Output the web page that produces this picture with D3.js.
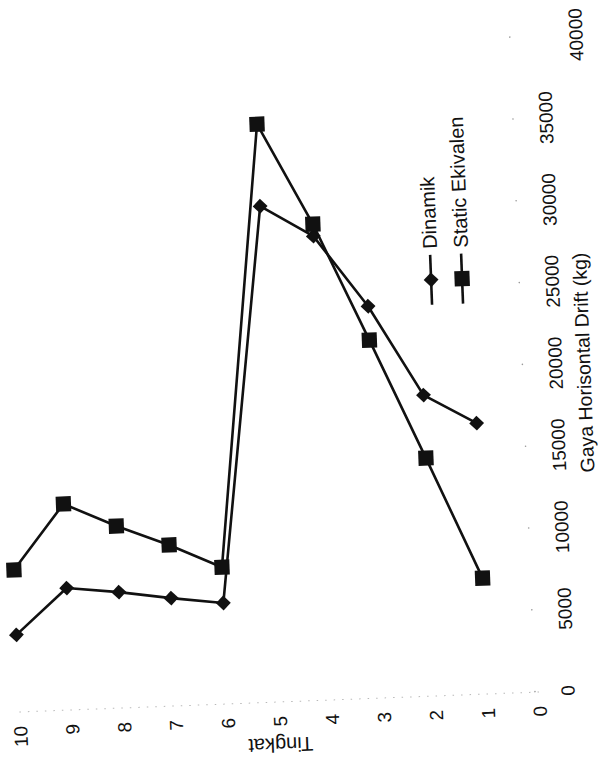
<!DOCTYPE html>
<html>
<head>
<meta charset="utf-8">
<script src="https://cdn.jsdelivr.net/npm/d3@7"></script>
<style>
  html, body { margin: 0; padding: 0; background: #fff; }
  svg { display: block; }
  text { font-family: "Liberation Sans", Arial, sans-serif; fill: #111; }
</style>
</head>
<body>
<svg id="chart" width="598" height="762"></svg>
<script>
// ---- data ----
const levels = [1, 2, 3, 4, 5, 6, 7, 8, 9, 10];
const dinamik = [16550, 18390, 23940, 28350, 30300, 6170, 6590, 7080, 7450, 4710];
const statik  = [7080, 14540, 21870, 29080, 35310, 8360, 9840, 11120, 12590, 8680];
const gayaTicks = [0, 5000, 10000, 15000, 20000, 25000, 30000, 35000, 40000];
const tingkatTicks = [0, 1, 2, 3, 4, 5, 6, 7, 8, 9, 10];
const seriesNames = ["Dinamik", "Static Ekivalen"];
const xTitle = "Gaya Horisontal Drift (kg)";
const yTitle = "Tingkat";

const svg = d3.select("#chart");
svg.append("rect").attr("width", 598).attr("height", 762).attr("fill", "#fff");

// The scanned chart is rotated (page turned sideways, slightly skewed)
const g = svg.append("g").attr("transform", "translate(539,692) rotate(-92.2)");

const x = d3.scaleLinear().domain([0, 40000]).range([0, 655]);
const y = d3.scaleLinear().domain([0, 10]).range([0, -520]);

// faint axis lines (scan)
g.append("line")
  .attr("x1", 0).attr("x2", 0).attr("y1", y(0)).attr("y2", y(10) - 4)
  .attr("stroke", "#b8b8b8").attr("stroke-width", 1).attr("stroke-dasharray", "1.5,7");

// Gaya axis (local bottom)
const xAxis = g.append("g")
  .call(d3.axisBottom(x).tickValues(gayaTicks).tickFormat(d3.format("d")).tickSize(0).tickPadding(0));
xAxis.select(".domain").remove();
xAxis.selectAll(".tick").append("circle").attr("cx", 0).attr("cy", -4).attr("r", 0.8).attr("fill", "#999");
xAxis.selectAll("text")
  .attr("y", (d, i) => i === gayaTicks.length - 1 ? 62 : 29)
  .attr("dy", "0.35em")
  .attr("font-size", 19)
  .attr("fill", "#111");

// Tingkat axis (local left)
const yAxis = g.append("g")
  .call(d3.axisLeft(y).tickValues(tingkatTicks).tickFormat(d3.format("d")).tickSize(0).tickPadding(14));
yAxis.select(".domain").remove();
yAxis.selectAll("text").attr("font-size", 19).attr("dy", "0.35em").attr("fill", "#111");

// axis titles
g.append("text")
  .attr("x", x(20000)).attr("y", 57).attr("dy", "0.35em")
  .attr("text-anchor", "middle").attr("font-size", 19.5)
  .text(xTitle);
g.append("text")
  .attr("transform", `translate(-43,${y(5)}) rotate(-90)`)
  .attr("dy", "0.35em")
  .attr("text-anchor", "middle").attr("font-size", 20)
  .text(yTitle);

// series
const line = d3.line().x(d => x(d.v)).y(d => y(d.t));
const dinData = levels.map((t, i) => ({ t, v: dinamik[i] }));
const staData = levels.map((t, i) => ({ t, v: statik[i] }));

const diamond = d3.symbol().type(d3.symbolSquare).size(110);
const square = d3.symbol().type(d3.symbolSquare).size(230);

[[dinData, "d"], [staData, "s"]].forEach(([data, kind]) => {
  g.append("path").datum(data)
    .attr("d", line)
    .attr("fill", "none").attr("stroke", "#111").attr("stroke-width", 2.6)
    .attr("stroke-linejoin", "round");
  g.selectAll(null).data(data).enter().append("path")
    .attr("d", kind === "d" ? diamond : square)
    .attr("transform", d => `translate(${x(d.v)},${y(d.t)})` + (kind === "d" ? " rotate(45)" : ""))
    .attr("fill", "#111");
});

// legend (local coordinates)
const legend = g.append("g").attr("transform", "translate(416,0)");
seriesNames.forEach((name, i) => {
  const ly = -92 + i * 31;
  legend.append("line").attr("x1", -25).attr("x2", 25).attr("y1", ly).attr("y2", ly)
    .attr("stroke", "#111").attr("stroke-width", 2.6);
  legend.append("path")
    .attr("d", i === 0 ? diamond : square)
    .attr("transform", `translate(0,${ly})` + (i === 0 ? " rotate(45)" : ""))
    .attr("fill", "#111");
  legend.append("text").attr("x", 31).attr("y", ly).attr("dy", "0.35em")
    .attr("font-size", 20).text(name);
});
</script>
</body>
</html>
